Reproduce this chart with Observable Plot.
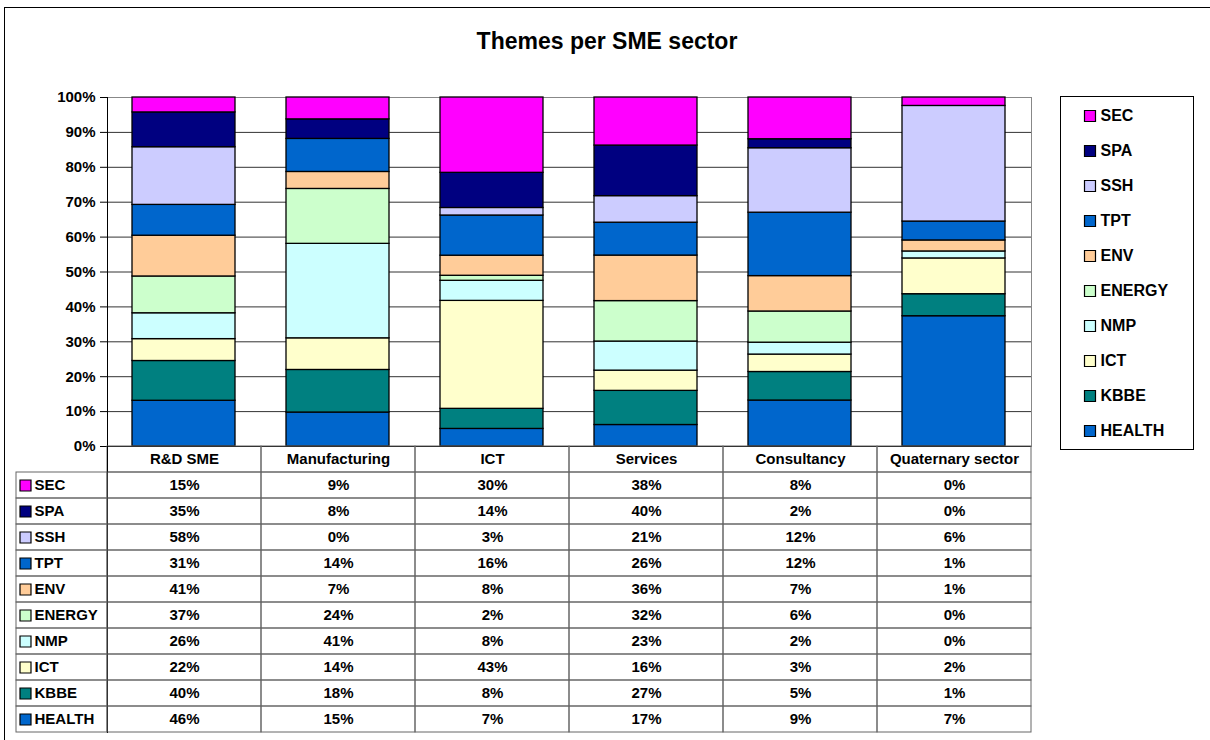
<!DOCTYPE html>
<html>
<head>
<meta charset="utf-8">
<script src="https://cdn.jsdelivr.net/npm/d3@7"></script>
<script src="https://cdn.jsdelivr.net/npm/@observablehq/plot@0.6"></script>
<style>
  html, body { margin: 0; padding: 0; background: #fff; }
  #wrap { position: relative; width: 1210px; height: 740px; overflow: hidden; background: #fff;
          font-family: "Liberation Sans", Arial, sans-serif; }
  #frame { position: absolute; left: 4px; top: 7px; width: 1230px; height: 760px;
           border-left: 1px solid #000; border-top: 1px solid #000; }
  #title { position: absolute; left: 4px; top: 30px; width: 1206px; text-align: center;
           font-size: 23px; line-height: 23px; font-weight: bold; color: #000; }
  .abs { position: absolute; }
</style>
</head>
<body>
<div id="wrap">
  <div id="frame"></div>
  <div id="title">Themes per SME sector</div>
  <div id="chart" class="abs" style="left:0;top:0"></div>
  <div id="legend" class="abs" style="left:1060px;top:96px"></div>
  <div id="table" class="abs" style="left:107px;top:446px"></div>
  <div id="labels" class="abs" style="left:16px;top:472px"></div>
</div>
<script>
// ---- data ----
const sectors = ["R&D SME", "Manufacturing", "ICT", "Services", "Consultancy", "Quaternary sector"];
const themes = ["HEALTH", "KBBE", "ICT", "NMP", "ENERGY", "ENV", "TPT", "SSH", "SPA", "SEC"];
const themeColors = ["#0066CC", "#008080", "#FFFFCC", "#CCFFFF", "#CCFFCC", "#FFCC99", "#0066CC", "#CCCCFF", "#000080", "#FF00FF"];

// values per theme, in sector order (table shows them rounded)
const health = [46, 14.6, 7, 17, 8.7, 7.1];
const kbbe   = [40, 18.3, 8, 27, 5.4, 1.2];
const ict    = [22, 13.6, 43, 16, 3.3, 1.95];
const nmp    = [26, 40.6, 8, 23, 2.25, 0.38];
const energy = [37, 23.6, 2, 32, 5.9, 0];
const env    = [41, 7.3, 8, 36, 6.7, 0.6];
const tpt    = [31, 14.2, 16, 26, 12.0, 1.03];
const ssh    = [58, 0, 3, 21, 12.2, 6.3];
const spa    = [35, 8.4, 14, 40, 1.7, 0];
const sec    = [15, 9.4, 30, 38, 7.9, 0.46];

const yTicks = [0, 0.1, 0.2, 0.3, 0.4, 0.5, 0.6, 0.7, 0.8, 0.9, 1];
const headerRow = "Sector";

// ---- build tables ----
const series = [health, kbbe, ict, nmp, energy, env, tpt, ssh, spa, sec];
const rows = themes.flatMap((t, i) => sectors.map((s, j) => ({sector: s, theme: t, value: series[i][j]})));
const themesRev = themes.slice().reverse();
const tableRowsDomain = [headerRow, ...themesRev];
const gridCells = tableRowsDomain.flatMap(r => sectors.map(s => ({sector: s, row: r})));

const font = '"Liberation Sans", Arial, sans-serif';
const baseStyle = {fontFamily: font, fontSize: "15px", fontWeight: "bold", color: "black", background: "transparent", overflow: "visible"};
const colorScale = {domain: themes, range: themeColors};
const pct = d => Math.round(d * 100) + "%";

// ---- main chart ----
const chart = Plot.plot({
  width: 1210, height: 447,
  marginTop: 97, marginLeft: 107, marginRight: 179, marginBottom: 1,
  style: baseStyle,
  x: {domain: sectors, paddingInner: 0.33, paddingOuter: 0.165, axis: null},
  y: {domain: [0, 1], axis: null, label: null},
  color: colorScale,
  marks: [
    Plot.gridY(yTicks, {stroke: "#333", strokeOpacity: 1}),
    Plot.frame({stroke: "#888"}),
    Plot.barY(rows, Plot.stackY({offset: "normalize", x: "sector", y: "value", fill: "theme", stroke: "black", strokeWidth: 1.3})),
    Plot.ruleY([0], {stroke: "black"}),
    Plot.frame({anchor: "left", stroke: "black"}),
    Plot.axisY(yTicks, {tickFormat: pct, tickSize: 7, tickPadding: 5, stroke: "black", fontSize: 15, fontWeight: "bold", label: null})
  ]
});
document.getElementById("chart").appendChild(chart);

// ---- legend ----
const legend = Plot.plot({
  width: 133, height: 353, margin: 0,
  style: {...baseStyle, fontSize: "16px"},
  y: {type: "band", domain: themesRev, padding: 0, axis: null},
  color: colorScale,
  marks: [
    Plot.frame({stroke: "black"}),
    Plot.dot(themesRev, {y: d => d, frameAnchor: "left", dx: 29.5, symbol: "square", r: 6.2, fill: d => d, stroke: "black", strokeWidth: 1.2}),
    Plot.text(themesRev, {y: d => d, text: d => d, frameAnchor: "left", dx: 40, textAnchor: "start", fontSize: 16, fontWeight: "bold"})
  ]
});
document.getElementById("legend").appendChild(legend);

// ---- data table (values) ----
const table = Plot.plot({
  width: 924, height: 286, margin: 0,
  style: baseStyle,
  x: {type: "band", domain: sectors, padding: 0, axis: null},
  y: {type: "band", domain: tableRowsDomain, padding: 0, axis: null},
  marks: [
    Plot.cell(gridCells, {x: "sector", y: "row", fill: "none", stroke: "#666"}),
    Plot.text(sectors, {x: d => d, y: () => headerRow, text: d => d, fontSize: 15, fontWeight: "bold"}),
    Plot.text(rows, {x: "sector", y: "theme", text: d => Math.round(d.value) + "%", fontSize: 15, fontWeight: "bold"}),
    Plot.frame({anchor: "left", stroke: "black"})
  ]
});
document.getElementById("table").appendChild(table);

// ---- data table (row labels with swatches) ----
const labels = Plot.plot({
  width: 91, height: 260, margin: 0,
  style: baseStyle,
  y: {type: "band", domain: themesRev, padding: 0, axis: null},
  color: colorScale,
  marks: [
    Plot.cell(themesRev, {y: d => d, fill: "none", stroke: "#666"}),
    Plot.dot(themesRev, {y: d => d, frameAnchor: "left", dx: 9, symbol: "square", r: 6.2, fill: d => d, stroke: "black", strokeWidth: 1.2}),
    Plot.text(themesRev, {y: d => d, text: d => d, frameAnchor: "left", dx: 18, textAnchor: "start", fontSize: 15, fontWeight: "bold"})
  ]
});
document.getElementById("labels").appendChild(labels);
</script>
</body>
</html>
